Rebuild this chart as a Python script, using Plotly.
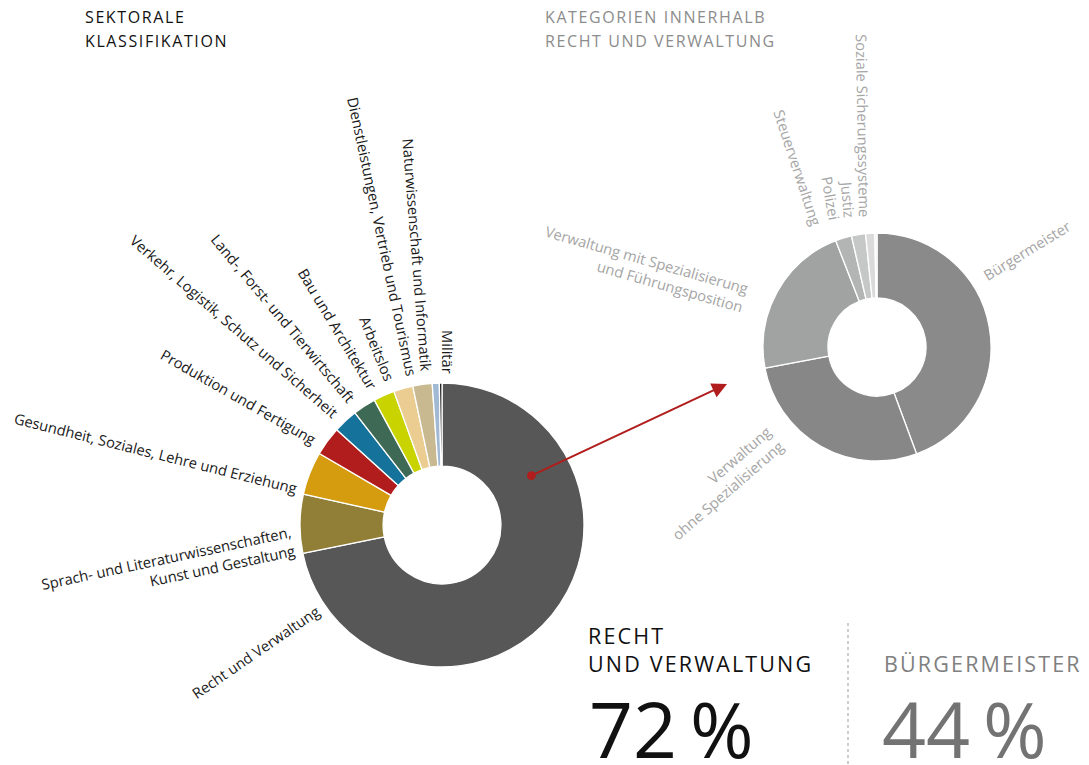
import math
import plotly.graph_objects as go

W, H = 1089, 765
OFF = 8  # default page margin around the figure
FW, FH = W - OFF, H - OFF

# ---------------- data ----------------
sector_labels = [
    "Recht und Verwaltung",
    "Sprach- und Literaturwissenschaften,|Kunst und Gestaltung",
    "Gesundheit, Soziales, Lehre und Erziehung",
    "Produktion und Fertigung",
    "Verkehr, Logistik, Schutz und Sicherheit",
    "Land-, Forst- und Tierwirtschaft",
    "Bau und Architektur",
    "Arbeitslos",
    "Dienstleistungen, Vertrieb und Tourismus",
    "Naturwissenschaft und Informatik",
    "Militär",
]
sector_values = [71.8, 6.7, 4.9, 3.3, 2.8, 2.6, 2.4, 2.2, 2.2, 0.8, 0.3]

sub_labels = [
    "Bürgermeister",
    "Verwaltung|ohne Spezialisierung",
    "Verwaltung mit Spezialisierung|und Führungsposition",
    "Steuerverwaltung",
    "Polizei",
    "Justiz",
    "Soziale Sicherungssysteme",
]
sub_values = [44.4, 27.7, 22.1, 2.3, 2.0, 1.3, 0.3]

title_left = ["SEKTORALE", "KLASSIFIKATION"]
title_right = ["KATEGORIEN INNERHALB", "RECHT UND VERWALTUNG"]
headline_left = ["RECHT", "UND VERWALTUNG"]
headline_right = ["BÜRGERMEISTER"]

# ---------------- styles / layout ----------------
sector_colors = ["#575757", "#917f37", "#d49c0e", "#b01d1c", "#15739b", "#3e6955",
                 "#c9d300", "#ebcd92", "#c9b991", "#a1b9d2", "#1e1e1e"]
sub_colors = ["#8a8a8a", "#878787", "#a1a3a2", "#b3b5b4", "#c6c8c7", "#d9dad9", "#ebebeb"]

FONT = "Open Sans"
LABEL_SIZE = 14.7
BIG = dict(cx=442, cy=525, R=142, hole=0.415)
SMALL = dict(cx=877, cy=347, R=114, hole=0.43)

# (angle clockwise from top in deg, radius px, text angle deg)
big_label_layout = [(235.8, 150, -34.5), (264.1, 150, -12), (284.3, 150, 14),
                    (303.6, 153, 29.7), (316.3, 154, 41), (324.2, 154, 50),
                    (333.3, 153, 59), (340.3, 154, 68), (348.7, 153, 78),
                    (354.4, 154, 85.5), (2.3, 152, 90)]
# (angle, radius, text angle, reading direction)
small_label_layout = [(56.7, 129, -31.6, "out"), (229, 136, -41, "in"),
                      (290.4, 141, 16, "in"), (333.8, 136, 71.7, "in"),
                      (341.7, 134, 80, "in"), (348.3, 133, 85, "in"),
                      (354.7, 130.5, 89, "in")]


def px(x):
    return (x - OFF) / FW


def py(y):
    return 1 - (y - OFF) / FH


def domain(c):
    return dict(x=[px(c["cx"] - c["R"]), px(c["cx"] + c["R"])],
                y=[py(c["cy"] + c["R"]), py(c["cy"] - c["R"])])


def polar_pt(c, theta, r):
    t = math.radians(theta)
    return c["cx"] + r * math.sin(t), c["cy"] - r * math.cos(t)


INV = '<span style="color:rgba(0,0,0,0)">{}</span>'


def radial_text(label, mode):
    lines = label.split("|")
    if mode == "in":
        out = [ln + INV.format(ln) for ln in lines]
    else:
        out = [INV.format(ln) + ln for ln in lines]
    return "<br>".join(out)


def spaced(s, sep):
    return sep.join(s)


fig = go.Figure()
fig.add_trace(go.Pie(
    labels=[l.replace("|", " ") for l in sector_labels], values=sector_values,
    marker=dict(colors=sector_colors, line=dict(color="white", width=1.3)),
    hole=BIG["hole"], sort=False, direction="clockwise", rotation=0,
    textinfo="none", domain=domain(BIG), showlegend=False,
    hovertemplate="%{label}: %{percent}<extra></extra>"))
fig.add_trace(go.Pie(
    labels=[l.replace("|", " ") for l in sub_labels], values=sub_values,
    marker=dict(colors=sub_colors, line=dict(color="white", width=1.3)),
    hole=SMALL["hole"], sort=False, direction="clockwise", rotation=0,
    textinfo="none", domain=domain(SMALL), showlegend=False,
    hovertemplate="%{label}: %{percent}<extra></extra>"))

ann = []
for lab, (th, r, a) in zip(sector_labels, big_label_layout):
    x, y = polar_pt(BIG, th, r)
    ann.append(dict(x=px(x), y=py(y), xref="paper", yref="paper", showarrow=False,
                    text=radial_text(lab, "in"), textangle=a, xanchor="center",
                    yanchor="middle", borderpad=0,
                    font=dict(family=FONT, size=LABEL_SIZE, color="#1a1a1a")))
for lab, (th, r, a, mode) in zip(sub_labels, small_label_layout):
    x, y = polar_pt(SMALL, th, r)
    ann.append(dict(x=px(x), y=py(y), xref="paper", yref="paper", showarrow=False,
                    text=radial_text(lab, mode), textangle=a, xanchor="center",
                    yanchor="middle", borderpad=0,
                    font=dict(family=FONT, size=LABEL_SIZE, color="#a5a5a5")))


def text_line(txt, x, baseline, size, color, sep="\u200a"):
    mid = baseline - 0.388 * size
    ann.append(dict(x=px(x), y=py(mid), xref="paper", yref="paper", showarrow=False,
                    text=spaced(txt, sep) if sep else txt, xanchor="left", yanchor="middle",
                    borderpad=0, font=dict(family=FONT, size=size, color=color)))


text_line(title_left[0], 84, 23, 16, "#111111")
text_line(title_left[1], 84, 47, 16, "#111111")
text_line(title_right[0], 544, 23, 16, "#8c8c8c")
text_line(title_right[1], 544, 47, 16, "#8c8c8c")
text_line(headline_left[0], 587, 644, 21.5, "#111111")
text_line(headline_left[1], 587, 672, 21.5, "#111111")
text_line(headline_right[0], 883, 672, 21.5, "#808080")

PCT = 77
pct_left = f"{round(sector_values[0])}\u2006%"
pct_right = f"{round(sub_values[0])}\u2006%"
text_line(pct_left, 588, 703 + 0.714 * PCT, PCT, "#111111", None)
text_line(pct_right, 881, 703 + 0.714 * PCT, PCT, "#737373", None)

# arrow from Recht und Verwaltung slice to the detail donut
sx, sy = polar_pt(BIG, 61, BIG["R"] * (1 + BIG["hole"]) / 2)
tx, ty = 727, 384
ann.append(dict(x=px(tx), y=py(ty), xref="paper", yref="paper", text="",
                showarrow=True, ax=sx - tx, ay=sy - ty, arrowcolor="#b01d1c",
                arrowwidth=2, arrowhead=2, arrowsize=1.5, arrowside="end+start",
                startarrowhead=6, startarrowsize=1.1))

fig.update_layout(
    width=FW, height=FH, margin=dict(l=0, r=0, t=0, b=0),
    paper_bgcolor="white", plot_bgcolor="white",
    annotations=ann,
    shapes=[dict(type="line", xref="paper", yref="paper", x0=px(848), x1=px(848),
                 y0=py(623), y1=py(765), line=dict(color="#bdbdbd", width=1.5, dash="dot"))],
)

fig.write_html("out.html")
